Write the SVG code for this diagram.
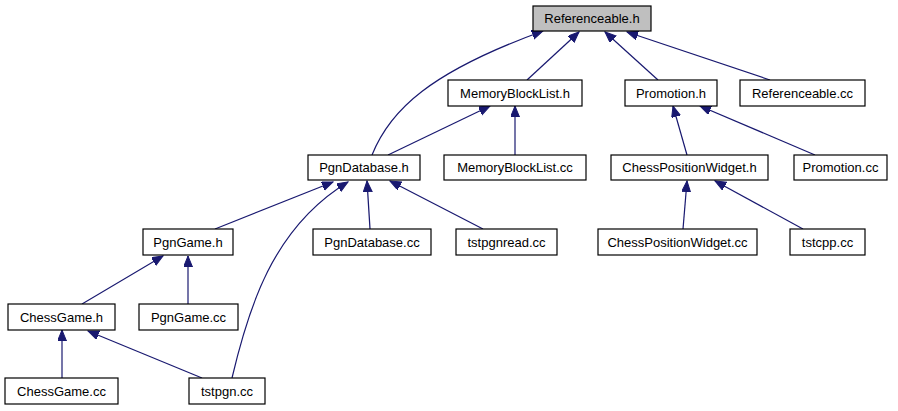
<svg xmlns="http://www.w3.org/2000/svg" width="898" height="411" viewBox="0 0 898 411">
<defs>
<style>
.n rect{fill:#ffffff;stroke:#000000;stroke-width:1.2}
.n.root rect{fill:#bfbfbf}
.n text{font-family:"Liberation Sans",Arial,sans-serif;font-size:13px;fill:#000000;text-anchor:middle}
.e path{fill:none;stroke:#191970;stroke-width:1.2;marker-end:url(#ah)}
</style>
<marker id="ah" markerUnits="userSpaceOnUse" markerWidth="12" markerHeight="10" refX="11" refY="4.5" orient="auto">
<path d="M0,0 L11,4.5 L0,9 z" fill="#191970" stroke="#191970" stroke-width="1"/>
</marker>
</defs>
<rect width="898" height="411" fill="#ffffff"/>
<g id="edges" class="e">
<path d="M372,155 C390,110 430,72 543,31"/>
<path d="M527,80 L579,32"/>
<path d="M658,80 L605,32"/>
<path d="M770,80 L627,32"/>
<path d="M388,155 L490,106"/>
<path d="M515,155 L515,106"/>
<path d="M687,155 L673,106"/>
<path d="M815,155 L700,106"/>
<path d="M215,229 L333,182"/>
<path d="M232,378 C248,310 272,228 348,182"/>
<path d="M370,229 L367,181"/>
<path d="M483,229 L390,181"/>
<path d="M82,304 L163,256"/>
<path d="M188,304 L188,256"/>
<path d="M62,378 L62,330"/>
<path d="M202,378 L88,331"/>
<path d="M683,229 L687,181"/>
<path d="M803,229 L715,181"/>
</g>
<g id="n_referenceable_h" class="n root"><rect x="533" y="6" width="118" height="25"/><text x="592" y="23">Referenceable.h</text></g>
<g id="n_memoryblocklist_h" class="n"><rect x="448" y="80" width="134" height="26"/><text x="515" y="98">MemoryBlockList.h</text></g>
<g id="n_promotion_h" class="n"><rect x="625" y="80" width="92" height="26"/><text x="671" y="98">Promotion.h</text></g>
<g id="n_referenceable_cc" class="n"><rect x="740" y="80" width="125" height="26"/><text x="802.5" y="98">Referenceable.cc</text></g>
<g id="n_pgndatabase_h" class="n"><rect x="308" y="155" width="112" height="25"/><text x="364" y="172">PgnDatabase.h</text></g>
<g id="n_memoryblocklist_cc" class="n"><rect x="444" y="155" width="142" height="25"/><text x="515" y="172">MemoryBlockList.cc</text></g>
<g id="n_chesspositionwidget_h" class="n"><rect x="611" y="155" width="157" height="25"/><text x="689.5" y="172">ChessPositionWidget.h</text></g>
<g id="n_promotion_cc" class="n"><rect x="794" y="155" width="93" height="25"/><text x="840.5" y="172">Promotion.cc</text></g>
<g id="n_pgngame_h" class="n"><rect x="143" y="229" width="90" height="26"/><text x="188" y="247">PgnGame.h</text></g>
<g id="n_pgndatabase_cc" class="n"><rect x="313" y="229" width="118" height="26"/><text x="372" y="247">PgnDatabase.cc</text></g>
<g id="n_tstpgnread_cc" class="n"><rect x="456" y="229" width="101" height="26"/><text x="506.5" y="247">tstpgnread.cc</text></g>
<g id="n_chesspositionwidget_cc" class="n"><rect x="598" y="229" width="159" height="26"/><text x="677.5" y="247">ChessPositionWidget.cc</text></g>
<g id="n_tstcpp_cc" class="n"><rect x="790" y="229" width="75" height="26"/><text x="827.5" y="247">tstcpp.cc</text></g>
<g id="n_chessgame_h" class="n"><rect x="8" y="304" width="107" height="26"/><text x="61.5" y="322">ChessGame.h</text></g>
<g id="n_pgngame_cc" class="n"><rect x="139" y="304" width="99" height="26"/><text x="188.5" y="322">PgnGame.cc</text></g>
<g id="n_chessgame_cc" class="n"><rect x="5" y="378" width="113" height="26"/><text x="61.5" y="396">ChessGame.cc</text></g>
<g id="n_tstpgn_cc" class="n"><rect x="189" y="378" width="76" height="26"/><text x="227" y="396">tstpgn.cc</text></g>
</svg>
